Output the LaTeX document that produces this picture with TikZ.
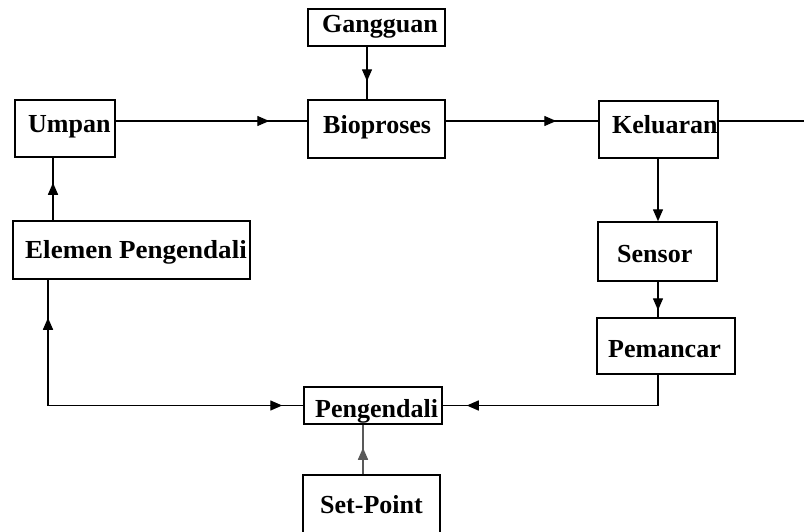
\documentclass[tikz,border=0pt]{standalone}
\usepackage{fontspec}
\setmainfont{Liberation Serif}
\usetikzlibrary{arrows.meta,decorations.markings}
\begin{document}
\begin{tikzpicture}[x=1pt,y=-1pt,
  box/.style={draw,line width=1.5pt,inner sep=0pt},
  lbl/.style={anchor=base west,inner sep=0pt,font=\bfseries\fontsize{26}{30}\selectfont},
  wire/.style={line width=1.4pt},
  tip/.tip={Triangle[length=12pt,width=10pt]},
  midarrow/.style={postaction={decorate},
    decoration={markings,mark=at position #1 with {\arrow{tip}}}}]
\useasboundingbox (0,0) rectangle (804,531);
\clip (0,0) rectangle (804,531);
\fill[white] (0,0) rectangle (804,531);

% blocks
\node[box,minimum width=137pt,minimum height=37pt] (gang)   at (376.5,27.5) {};
\node[box,minimum width=137pt,minimum height=58pt] (bio)    at (376.5,129) {};
\node[box,minimum width=100pt,minimum height=57pt] (umpan)  at (65,128.5) {};
\node[box,minimum width=119pt,minimum height=57pt] (kel)    at (658.5,129.5) {};
\node[box,minimum width=119pt,minimum height=59pt] (sensor) at (657.5,251.5) {};
\node[box,minimum width=138pt,minimum height=56pt] (pem)    at (666,346) {};
\node[box,minimum width=237pt,minimum height=58pt] (elemen) at (131.5,250) {};
\node[box,minimum width=138pt,minimum height=37pt] (peng)   at (373,405.5) {};
\node[box,minimum width=137pt,minimum height=85pt] (setp)   at (371.5,517.5) {};

% block labels
\node[lbl] (tgang)   at (322,32)  {Gangguan};
\node[lbl] (tbio)    at (323,133) {Bioproses};
\node[lbl] (tumpan)  at (28,132)  {Umpan};
\node[lbl] (tkel)    at (612,133) {Keluaran};
\node[lbl] (tsensor) at (617,262) {Sensor};
\node[lbl] (tpem)    at (608,357) {Pemancar};
\node[lbl,xscale=1.04] (telemen) at (25,258)  {Elemen Pengendali};
\node[lbl] (tpeng)   at (315,417) {Pengendali};
\node[lbl] (tsetp)   at (320,513) {Set-Point};

% reference lines for the connectors
\coordinate (row) at (0,121);
\coordinate (cfb) at (48,0);
\coordinate (cup) at (53,0);
\coordinate (cdist) at (367,0);
\coordinate (csp) at (363,0);
\coordinate (cmeas) at (658,0);
\coordinate (exit) at (804,121);

% forward path
\draw[wire,midarrow=-38pt] (umpan.east |- row) -- (bio.west |- row);
\draw[wire,midarrow=-42pt] (bio.east |- row) -- (kel.west |- row);
\draw[wire] (kel.east |- row) -- (exit);
\draw[wire,midarrow=-18pt] (gang.south -| cdist) -- (bio.north -| cdist);

% measurement path
\draw[wire,-tip] (kel.south -| cmeas) -- (sensor.north -| cmeas);
\draw[wire,midarrow=-7pt] (sensor.south -| cmeas) -- (pem.north -| cmeas);
\draw[wire,midarrow=-24pt] (pem.south -| cmeas) |- (peng.east);

% controller output to the final control element
\draw[wire,postaction={decorate},
  decoration={markings,
    mark=at position 38pt with {\arrowreversed{tip}},
    mark=at position -21pt with {\arrow{tip}}}]
  (elemen.south -| cfb) |- (peng.west);
\draw[wire,midarrow=-25pt] (elemen.north -| cup) -- (umpan.south -| cup);

% set-point input
\draw[wire,gray!70!black,midarrow=-23pt] (setp.north -| csp) -- (peng.south -| csp);
\end{tikzpicture}
\end{document}
